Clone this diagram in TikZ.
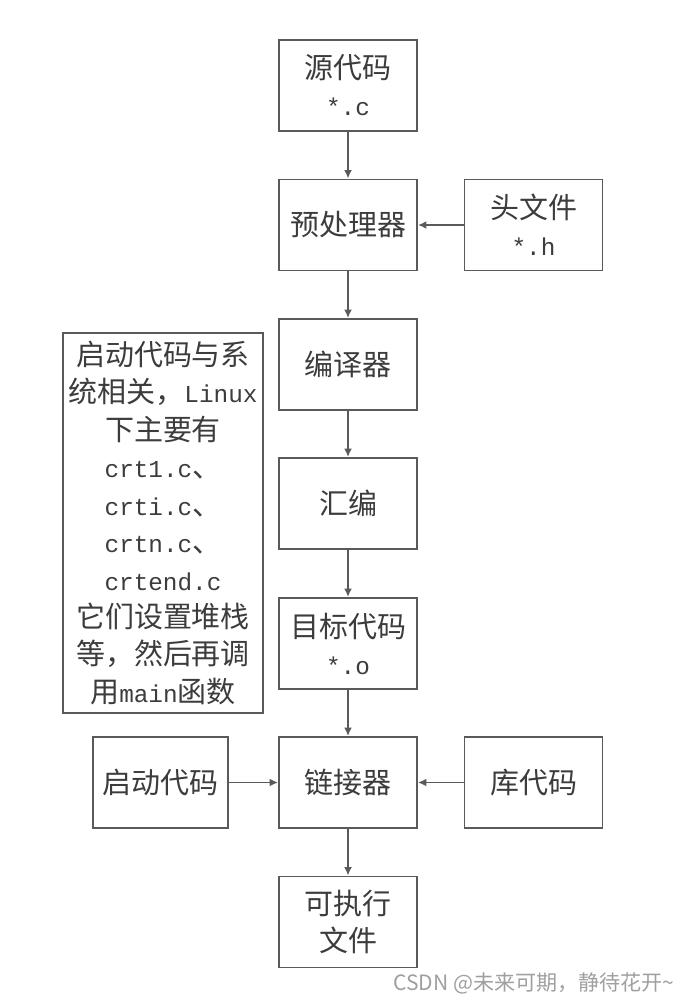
\documentclass[tikz,border=0pt]{standalone}
\usepackage{fontspec}
\setmainfont{Noto Sans CJK SC}
\setmonofont[Scale=0.84]{Liberation Mono}
\usetikzlibrary{arrows.meta}
\definecolor{boxgray}{RGB}{90,90,90}
\definecolor{textgray}{RGB}{60,60,60}
\tikzset{
	stage/.style={draw=boxgray,line width=1.1pt,minimum width=2.76cm,minimum height=1.82cm,
		inner sep=0pt,align=center,text=textgray,font=\fontsize{16.5}{21}\selectfont},
	flow/.style={draw=boxgray,line width=1.1pt,-{Latex[length=1.7mm,width=1.6mm]}}
}
\begin{document}
\begin{tikzpicture}
				\useasboundingbox (0,0) rectangle (13.8,-19.98);
				% main column
				\node[stage] (src) at (6.96,-1.71) {源代码\\\texttt{*.c}};
				\node[stage] (pre) at (6.96,-4.5) {预处理器};
				\node[stage] (cc) at (6.96,-7.29) {编译器};
				\node[stage] (asm) at (6.96,-10.07) {汇编};
				\node[stage] (obj) at (6.96,-12.87) {目标代码\\\texttt{*.o}};
				\node[stage] (ld) at (6.96,-15.65) {链接器};
				\node[stage] (exe) at (6.96,-18.44) {可执行\\文件};
				% side boxes
				\node[stage] (hdr) at (10.67,-4.5) {头文件\\\texttt{*.h}};
				\node[stage,minimum width=2.7cm] (crt) at (3.21,-15.65) {启动代码};
				\node[stage] (lib) at (10.67,-15.65) {库代码};
				\node[stage,minimum width=4cm,minimum height=7.6cm,font=\fontsize{16.5}{21.3}\selectfont] (note) at (3.26,-10.46)
					{启动代码与系\\统相关，\texttt{Linux}\\下主要有\\\texttt{crt1.c}、\\\texttt{crti.c}、\\\texttt{crtn.c}、\\\texttt{crtend.c}\\它们设置堆栈\\等，然后再调\\用\texttt{main}函数};
				% arrows
				\draw[flow] (src) -- (pre);
				\draw[flow] (hdr) -- (pre);
				\draw[flow] (pre) -- (cc);
				\draw[flow] (cc) -- (asm);
				\draw[flow] (asm) -- (obj);
				\draw[flow] (obj) -- (ld);
				\draw[flow] (crt) -- (ld);
				\draw[flow] (lib) -- (ld);
				\draw[flow] (ld) -- (exe);
				% watermark
				\node[anchor=east,inner sep=0pt,text=gray!75,font=\fontsize{12}{14}\selectfont] (mark) at (13.5,-19.66) {CSDN @未来可期，静待花开\textasciitilde};
\end{tikzpicture}
\end{document}
